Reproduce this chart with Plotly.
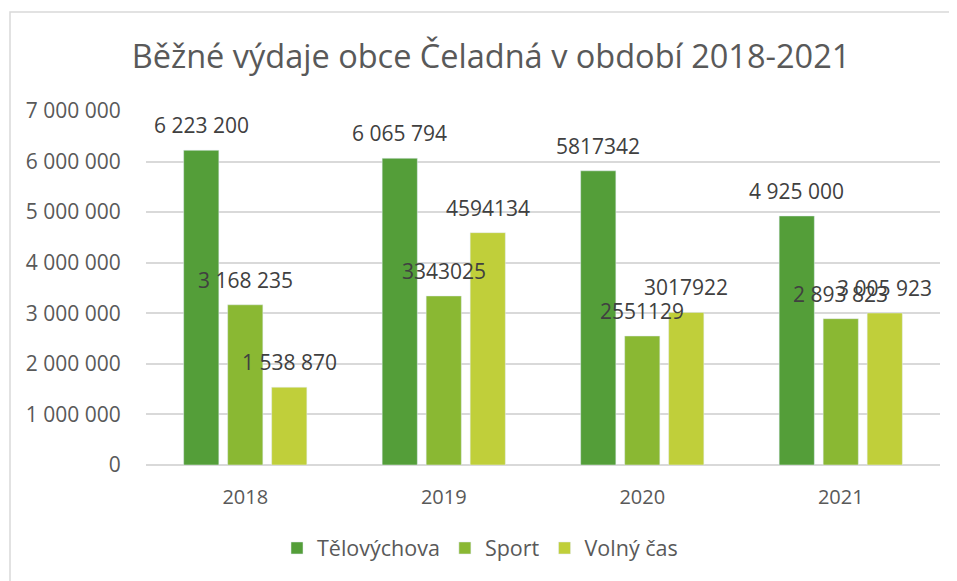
import plotly.graph_objects as go

years = ["2018", "2019", "2020", "2021"]
series_names = ["Tělovýchova", "Sport", "Volný čas"]
telovychova = [6223200, 6065794, 5817342, 4925000]
sport = [3168235, 3343025, 2551129, 2893823]
volny_cas = [1538870, 4594134, 3017922, 3005923]
telovychova_labels = ["6 223 200", "6 065 794", "5817342", "4 925 000"]
sport_labels = ["3 168 235", "3343025", "2551129", "2 893 823"]
volny_cas_labels = ["1 538 870", "4594134", "3017922", "3 005 923"]
y_tickvals = [0, 1000000, 2000000, 3000000, 4000000, 5000000, 6000000, 7000000]
y_ticktext = ["0", "1 000 000", "2 000 000", "3 000 000", "4 000 000",
              "5 000 000", "6 000 000", "7 000 000"]

colors = ["#549E39", "#8AB833", "#C0CF3A"]
FONT = "Open Sans"
TXT = "#404040"

# page body has an 8px margin, so all layout numbers are shifted by -8px
W, H = 957, 581
ML, MT = 138, 103
PLOT_W, PLOT_H = 794, 354
MR = W - ML - PLOT_W
MB = H - MT - PLOT_H
BARGAP, BARGROUPGAP = 0.335, 0.2

fig = go.Figure()
all_vals = [telovychova, sport, volny_cas]
all_labels = [telovychova_labels, sport_labels, volny_cas_labels]
for name, vals, col in zip(series_names, all_vals, colors):
    fig.add_trace(go.Bar(name=name, x=years, y=vals,
                         marker=dict(color=col),
                         hoverinfo="skip"))

cat_w = PLOT_W / len(years)
slot = (1 - BARGAP) * cat_w / len(series_names)
annotations = []
for i, (vals, labs) in enumerate(zip(all_vals, all_labels)):
    for j, (v, lab) in enumerate(zip(vals, labs)):
        # category axis: position j is the j-th year
        annotations.append(dict(x=j, y=v, xref="x", yref="y", text=lab, showarrow=False,
                                xshift=(i - 1) * slot, yshift=25, yanchor="middle",
                                font=dict(family=FONT, size=21, color=TXT)))

frame_x0 = (2 - ML) / PLOT_W
frame_y1 = (MT + PLOT_H - 4) / PLOT_H
legend_y = -(540 - (MT + PLOT_H)) / PLOT_H
legend_x = (472 - ML) / PLOT_W

fig.update_layout(
    width=W, height=H, autosize=False,
    margin=dict(l=ML, r=MR, t=MT, b=MB),
    paper_bgcolor="white", plot_bgcolor="white",
    barmode="group", bargap=BARGAP, bargroupgap=BARGROUPGAP,
    title=dict(text="Běžné výdaje obce Čeladná v období 2018-2021",
               x=483 / W, xanchor="center", y=1 - 49 / H, yanchor="middle",
               font=dict(family=FONT, size=32.5, color="#595959")),
    font=dict(family=FONT, color="#595959"),
    xaxis=dict(type="category", categoryorder="array", categoryarray=years,
               range=[-0.5, len(years) - 0.5],
               showgrid=False, showline=False, zeroline=False,
               ticks="outside", ticklen=14, tickcolor="rgba(0,0,0,0)",
               tickfont=dict(family=FONT, size=20, color="#595959")),
    yaxis=dict(range=[0, 7000000], tickvals=y_tickvals, ticktext=y_ticktext,
               showgrid=True, gridcolor="#D9D9D9", gridwidth=1.5,
               zeroline=True, zerolinecolor="#D9D9D9", zerolinewidth=1.5,
               showline=False, ticks="outside", ticklen=20, tickcolor="rgba(0,0,0,0)",
               tickfont=dict(family=FONT, size=21, color="#595959")),
    legend=dict(orientation="h", x=legend_x, xanchor="center", y=legend_y,
                yanchor="middle", font=dict(family=FONT, size=21.5, color="#595959"),
                itemwidth=30, itemclick=False, itemdoubleclick=False),
    annotations=annotations,
    shapes=[dict(type="rect", xref="paper", yref="paper", x0=frame_x0, x1=1.3,
                 y0=-1, y1=frame_y1, line=dict(color="#D9D9D9", width=1.5),
                 fillcolor="rgba(0,0,0,0)", layer="below")],
)

fig.write_html("out.html")
